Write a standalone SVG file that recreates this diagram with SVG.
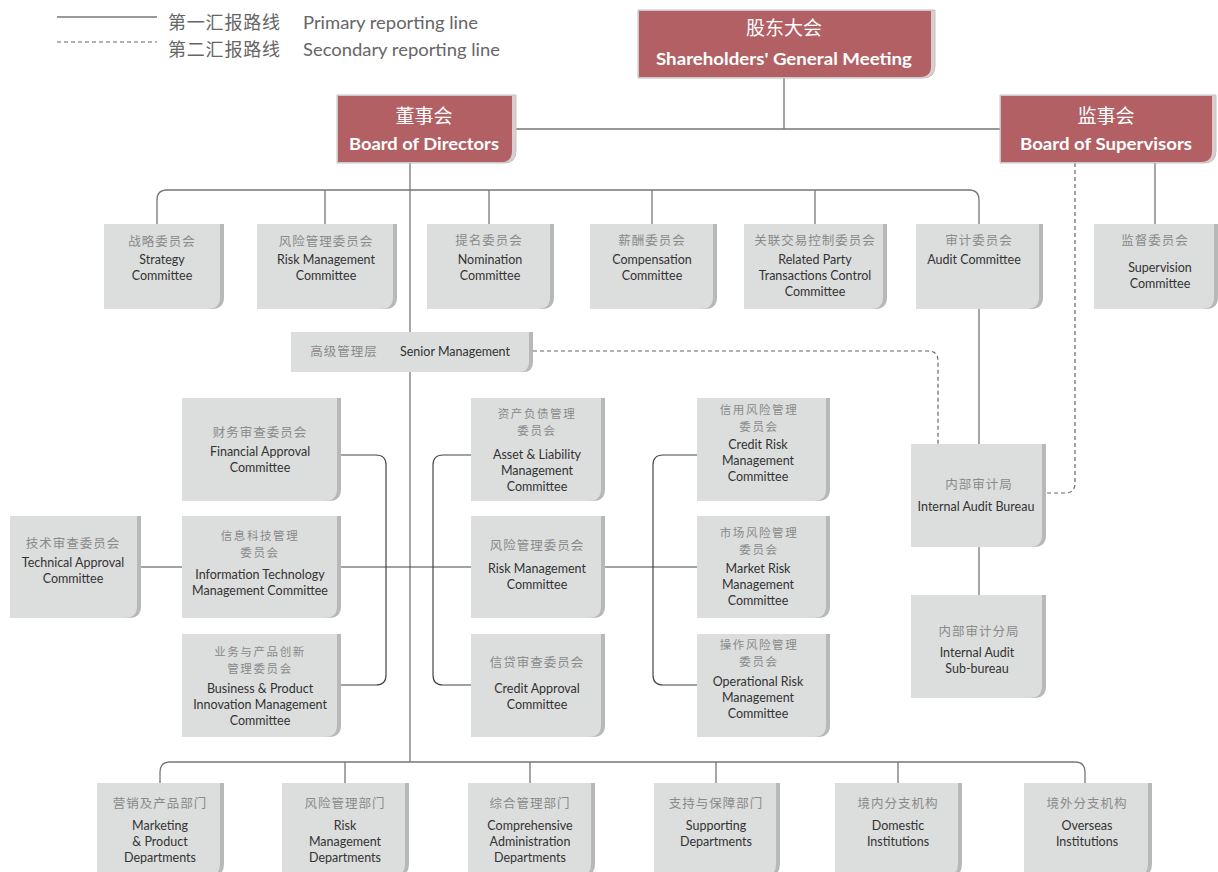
<svg xmlns="http://www.w3.org/2000/svg" width="1218" height="872" viewBox="0 0 1218 872">
<style>
.ln{fill:none;stroke:#777;stroke-width:1.3}
.dk{fill:none;stroke:#444;stroke-width:1.2}
.ds{fill:none;stroke:#666;stroke-width:1.2;stroke-dasharray:4 3}
.sh{fill:#b7b8b8}
.bx{fill:#dcdddd}
.rs{fill:#d9cdcd;stroke:#c2c2c2;stroke-width:1}
.rb{fill:#b26064}
.cn{font-family:"Noto Sans CJK SC",sans-serif;font-size:12.5px;fill:#8a8a8a;text-anchor:middle;letter-spacing:1px}
.c2{font-family:"Noto Sans CJK SC",sans-serif;font-size:11.5px;fill:#8a8a8a;text-anchor:middle;letter-spacing:1.6px}
.en{font-family:Lato,"Liberation Sans",sans-serif;font-size:12.5px;fill:#333;text-anchor:middle}
.rc{font-family:"Noto Sans CJK SC",sans-serif;font-size:19px;fill:#fff;text-anchor:middle}
.re{font-family:Lato,"Liberation Sans",sans-serif;font-size:17px;font-weight:bold;fill:#fff;text-anchor:middle}
.lg{font-family:"Noto Sans CJK SC",sans-serif;font-size:18px;fill:#666;letter-spacing:0.8px}
.le{font-family:Lato,"Liberation Sans",sans-serif;font-size:18px;fill:#666}
</style>

<g id="legend">
<path class="ln" d="M57 17 H157"/>
<path class="ds" d="M57 42 H157"/>
<text class="lg" x="168" y="29">第一汇报路线</text>
<text class="le" x="303" y="29" textLength="175" lengthAdjust="spacingAndGlyphs">Primary reporting line</text>
<text class="lg" x="168" y="56">第二汇报路线</text>
<text class="le" x="303" y="56" textLength="197" lengthAdjust="spacingAndGlyphs">Secondary reporting line</text>
</g>

<g id="connectors">
<path class="ln" d="M784 78 V129 M516 129 H1000"/>
<path class="ln" d="M1155 163 V224"/>
<path class="ln" d="M410 163 V762"/>
<path class="ln" d="M157 224 V200 Q157 190 167 190 H969 Q979 190 979 200 V224 M325 190 V224 M489 190 V224 M652 190 V224 M815 190 V224"/>
<path class="ds" d="M1075 163 V483 Q1075 493 1065 493 H1046"/>
<path class="ds" d="M533 351 H928 Q938 351 938 361 V444"/>
<path class="ln" d="M979 309 V444 M979 547 V595"/>
<path class="dk" d="M341 455 H376 Q386 455 386 465 V675 Q386 685 376 685 H341"/>
<path class="dk" d="M471 455 H443 Q433 455 433 465 V675 Q433 685 443 685 H471"/>
<path class="dk" d="M697 455 H663 Q653 455 653 465 V675 Q653 685 663 685 H697"/>
<path class="dk" d="M141 567 H182 M341 567 H471 M605 567 H697"/>
<path class="ln" d="M160 783 V772 Q160 762 170 762 H1075 Q1085 762 1085 772 V783 M345 762 V783 M530 762 V783 M716 762 V783 M898 762 V783"/>
</g>

<g id="shareholders">
<path class="rs" d="M638 10 H935 V66 Q935 78 923 78 H638 Z"/>
<path class="rb" d="M639 11 H931 V66 Q931 77 920 77 H639 Z"/>
<text class="rc" x="784" y="35">股东大会</text>
<text class="re" x="784" y="65" textLength="256" lengthAdjust="spacingAndGlyphs">Shareholders' General Meeting</text>
</g>
<g id="board-directors">
<path class="rs" d="M337 95 H516 V151 Q516 163 504 163 H337 Z"/>
<path class="rb" d="M338 96 H512 V151 Q512 162 501 162 H338 Z"/>
<text class="rc" x="424" y="123">董事会</text>
<text class="re" x="424" y="150" textLength="150" lengthAdjust="spacingAndGlyphs">Board of Directors</text>
</g>
<g id="board-supervisors">
<path class="rs" d="M1000 95 H1216 V151 Q1216 163 1204 163 H1000 Z"/>
<path class="rb" d="M1001 96 H1212 V151 Q1212 162 1201 162 H1001 Z"/>
<text class="rc" x="1106" y="123">监事会</text>
<text class="re" x="1106" y="150" textLength="172" lengthAdjust="spacingAndGlyphs">Board of Supervisors</text>
</g>

<g id="strategy">
<path class="sh" d="M104 224 H224 V297 Q224 309 212 309 H104 Z"/>
<path class="bx" d="M104 224 H220 V297 Q220 309 208 309 H104 Z"/>
<text class="cn" x="162" y="246">战略委员会</text>
<text class="en" x="162" y="264">Strategy</text>
<text class="en" x="162" y="280">Committee</text>
</g>
<g id="risk-committee">
<path class="sh" d="M257 224 H397 V297 Q397 309 385 309 H257 Z"/>
<path class="bx" d="M257 224 H393 V297 Q393 309 381 309 H257 Z"/>
<text class="cn" x="326" y="246">风险管理委员会</text>
<text class="en" x="326" y="264">Risk Management</text>
<text class="en" x="326" y="280">Committee</text>
</g>
<g id="nomination">
<path class="sh" d="M427 224 H554 V297 Q554 309 542 309 H427 Z"/>
<path class="bx" d="M427 224 H550 V297 Q550 309 538 309 H427 Z"/>
<text class="cn" x="489" y="245">提名委员会</text>
<text class="en" x="490" y="264">Nomination</text>
<text class="en" x="490" y="280">Committee</text>
</g>
<g id="compensation">
<path class="sh" d="M590 224 H717 V297 Q717 309 705 309 H590 Z"/>
<path class="bx" d="M590 224 H713 V297 Q713 309 701 309 H590 Z"/>
<text class="cn" x="652" y="245">薪酬委员会</text>
<text class="en" x="652" y="264">Compensation</text>
<text class="en" x="652" y="280">Committee</text>
</g>
<g id="related-party">
<path class="sh" d="M744 224 H887 V297 Q887 309 875 309 H744 Z"/>
<path class="bx" d="M744 224 H883 V297 Q883 309 871 309 H744 Z"/>
<text class="cn" x="815" y="245">关联交易控制委员会</text>
<text class="en" x="815" y="264">Related Party</text>
<text class="en" x="815" y="280">Transactions Control</text>
<text class="en" x="815" y="296">Committee</text>
</g>
<g id="audit-committee">
<path class="sh" d="M916 224 H1043 V297 Q1043 309 1031 309 H916 Z"/>
<path class="bx" d="M916 224 H1039 V297 Q1039 309 1027 309 H916 Z"/>
<text class="cn" x="979" y="245">审计委员会</text>
<text class="en" x="974" y="264">Audit Committee</text>
</g>
<g id="supervision">
<path class="sh" d="M1094 224 H1218 V297 Q1218 309 1206 309 H1094 Z"/>
<path class="bx" d="M1094 224 H1214 V297 Q1214 309 1202 309 H1094 Z"/>
<text class="cn" x="1155" y="245">监督委员会</text>
<text class="en" x="1160" y="272">Supervision</text>
<text class="en" x="1160" y="288">Committee</text>
</g>

<g id="senior-management">
<path class="sh" d="M291 332 H533 V362 Q533 372 523 372 H291 Z"/>
<path class="bx" d="M291 332 H529 V362 Q529 372 519 372 H291 Z"/>
<text class="cn" x="344" y="356">高级管理层</text>
<text class="en" x="455" y="356">Senior Management</text>
</g>

<g id="financial-approval">
<path class="sh" d="M182 398 H341 V489 Q341 501 329 501 H182 Z"/>
<path class="bx" d="M182 398 H337 V489 Q337 501 325 501 H182 Z"/>
<text class="cn" x="260" y="437">财务审查委员会</text>
<text class="en" x="260" y="456">Financial Approval</text>
<text class="en" x="260" y="472">Committee</text>
</g>
<g id="it-management">
<path class="sh" d="M182 516 H341 V606 Q341 618 329 618 H182 Z"/>
<path class="bx" d="M182 516 H337 V606 Q337 618 325 618 H182 Z"/>
<text class="c2" x="260" y="540">信息科技管理</text>
<text class="c2" x="260" y="557">委员会</text>
<text class="en" x="260" y="579">Information Technology</text>
<text class="en" x="260" y="595">Management Committee</text>
</g>
<g id="business-product">
<path class="sh" d="M182 634 H341 V725 Q341 737 329 737 H182 Z"/>
<path class="bx" d="M182 634 H337 V725 Q337 737 325 737 H182 Z"/>
<text class="c2" x="260" y="656">业务与产品创新</text>
<text class="c2" x="260" y="673">管理委员会</text>
<text class="en" x="260" y="693">Business &amp; Product</text>
<text class="en" x="260" y="709">Innovation Management</text>
<text class="en" x="260" y="725">Committee</text>
</g>
<g id="technical-approval">
<path class="sh" d="M10 516 H141 V606 Q141 618 129 618 H10 Z"/>
<path class="bx" d="M10 516 H137 V606 Q137 618 125 618 H10 Z"/>
<text class="cn" x="73" y="548">技术审查委员会</text>
<text class="en" x="73" y="567">Technical  Approval</text>
<text class="en" x="73" y="583">Committee</text>
</g>

<g id="alco">
<path class="sh" d="M471 398 H605 V489 Q605 501 593 501 H471 Z"/>
<path class="bx" d="M471 398 H601 V489 Q601 501 589 501 H471 Z"/>
<text class="c2" x="537" y="418">资产负债管理</text>
<text class="c2" x="537" y="435">委员会</text>
<text class="en" x="537" y="459">Asset &amp; Liability</text>
<text class="en" x="537" y="475">Management</text>
<text class="en" x="537" y="491">Committee</text>
</g>
<g id="risk-management-sm">
<path class="sh" d="M471 516 H605 V606 Q605 618 593 618 H471 Z"/>
<path class="bx" d="M471 516 H601 V606 Q601 618 589 618 H471 Z"/>
<text class="cn" x="537" y="550">风险管理委员会</text>
<text class="en" x="537" y="573">Risk Management</text>
<text class="en" x="537" y="589">Committee</text>
</g>
<g id="credit-approval">
<path class="sh" d="M471 634 H605 V725 Q605 737 593 737 H471 Z"/>
<path class="bx" d="M471 634 H601 V725 Q601 737 589 737 H471 Z"/>
<text class="cn" x="537" y="667">信贷审查委员会</text>
<text class="en" x="537" y="693">Credit Approval</text>
<text class="en" x="537" y="709">Committee</text>
</g>

<g id="credit-risk">
<path class="sh" d="M697 398 H830 V489 Q830 501 818 501 H697 Z"/>
<path class="bx" d="M697 398 H826 V489 Q826 501 814 501 H697 Z"/>
<text class="c2" x="759" y="414">信用风险管理</text>
<text class="c2" x="759" y="431">委员会</text>
<text class="en" x="758" y="449">Credit Risk</text>
<text class="en" x="758" y="465">Management</text>
<text class="en" x="758" y="481">Committee</text>
</g>
<g id="market-risk">
<path class="sh" d="M697 516 H830 V606 Q830 618 818 618 H697 Z"/>
<path class="bx" d="M697 516 H826 V606 Q826 618 814 618 H697 Z"/>
<text class="c2" x="759" y="537">市场风险管理</text>
<text class="c2" x="759" y="554">委员会</text>
<text class="en" x="758" y="573">Market Risk</text>
<text class="en" x="758" y="589">Management</text>
<text class="en" x="758" y="605">Committee</text>
</g>
<g id="operational-risk">
<path class="sh" d="M697 634 H830 V725 Q830 737 818 737 H697 Z"/>
<path class="bx" d="M697 634 H826 V725 Q826 737 814 737 H697 Z"/>
<text class="c2" x="759" y="649">操作风险管理</text>
<text class="c2" x="759" y="666">委员会</text>
<text class="en" x="758" y="686">Operational Risk</text>
<text class="en" x="758" y="702">Management</text>
<text class="en" x="758" y="718">Committee</text>
</g>

<g id="internal-audit-bureau">
<path class="sh" d="M911 444 H1046 V535 Q1046 547 1034 547 H911 Z"/>
<path class="bx" d="M911 444 H1042 V535 Q1042 547 1030 547 H911 Z"/>
<text class="cn" x="979" y="489">内部审计局</text>
<text class="en" x="976" y="511">Internal Audit Bureau</text>
</g>
<g id="internal-audit-sub">
<path class="sh" d="M911 595 H1046 V686 Q1046 698 1034 698 H911 Z"/>
<path class="bx" d="M911 595 H1042 V686 Q1042 698 1030 698 H911 Z"/>
<text class="cn" x="979" y="636">内部审计分局</text>
<text class="en" x="977" y="657">Internal Audit</text>
<text class="en" x="977" y="673">Sub-bureau</text>
</g>

<g id="marketing">
<path class="sh" d="M97 783 H224 V864 Q224 876 212 876 H97 Z"/>
<path class="bx" d="M97 783 H220 V864 Q220 876 208 876 H97 Z"/>
<text class="cn" x="160" y="808">营销及产品部门</text>
<text class="en" x="160" y="830">Marketing</text>
<text class="en" x="160" y="846">&amp; Product</text>
<text class="en" x="160" y="862">Departments</text>
</g>
<g id="risk-departments">
<path class="sh" d="M282 783 H409 V864 Q409 876 397 876 H282 Z"/>
<path class="bx" d="M282 783 H405 V864 Q405 876 393 876 H282 Z"/>
<text class="cn" x="345" y="808">风险管理部门</text>
<text class="en" x="345" y="830">Risk</text>
<text class="en" x="345" y="846">Management</text>
<text class="en" x="345" y="862">Departments</text>
</g>
<g id="comprehensive">
<path class="sh" d="M468 783 H595 V864 Q595 876 583 876 H468 Z"/>
<path class="bx" d="M468 783 H591 V864 Q591 876 579 876 H468 Z"/>
<text class="cn" x="530" y="808">综合管理部门</text>
<text class="en" x="530" y="830">Comprehensive</text>
<text class="en" x="530" y="846">Administration</text>
<text class="en" x="530" y="862">Departments</text>
</g>
<g id="supporting">
<path class="sh" d="M654 783 H780 V864 Q780 876 768 876 H654 Z"/>
<path class="bx" d="M654 783 H776 V864 Q776 876 764 876 H654 Z"/>
<text class="cn" x="716" y="808">支持与保障部门</text>
<text class="en" x="716" y="830">Supporting</text>
<text class="en" x="716" y="846">Departments</text>
</g>
<g id="domestic">
<path class="sh" d="M835 783 H962 V864 Q962 876 950 876 H835 Z"/>
<path class="bx" d="M835 783 H958 V864 Q958 876 946 876 H835 Z"/>
<text class="cn" x="898" y="808">境内分支机构</text>
<text class="en" x="898" y="830">Domestic</text>
<text class="en" x="898" y="846">Institutions</text>
</g>
<g id="overseas">
<path class="sh" d="M1024 783 H1152 V864 Q1152 876 1140 876 H1024 Z"/>
<path class="bx" d="M1024 783 H1148 V864 Q1148 876 1136 876 H1024 Z"/>
<text class="cn" x="1087" y="808">境外分支机构</text>
<text class="en" x="1087" y="830">Overseas</text>
<text class="en" x="1087" y="846">Institutions</text>
</g>
</svg>
